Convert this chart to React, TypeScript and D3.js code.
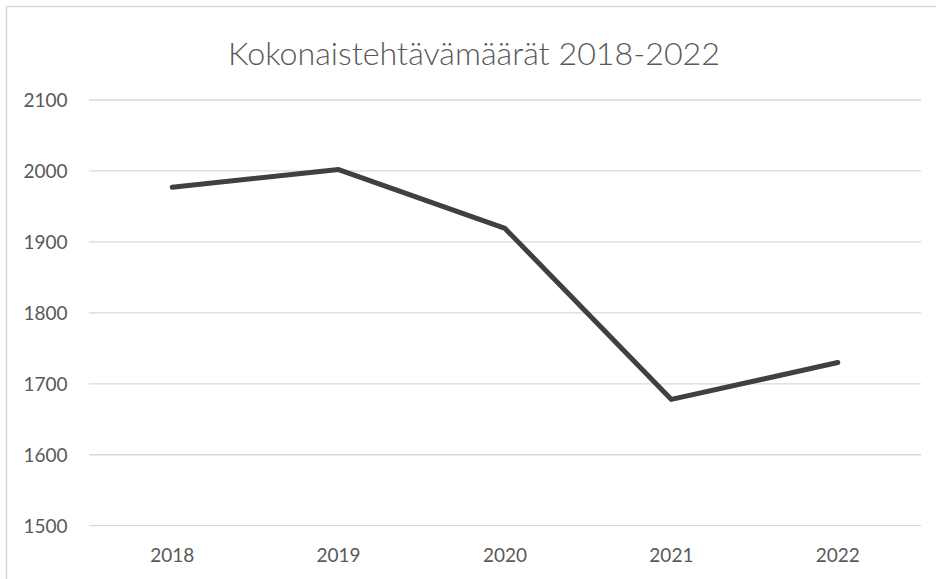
import React from "react";
import * as d3 from "d3";

const categories = ["2018", "2019", "2020", "2021", "2022"];
const values = [1977, 2002, 1919, 1678, 1730];
const yTicks = [1500, 1600, 1700, 1800, 1900, 2000, 2100];
const title = "Kokonaistehtävämäärät 2018-2022";

export default function App() {
  const W = 936, H = 579;
  const left = 89, right = 921, top = 100, bottom = 525.7;
  const x = d3.scaleBand<string>().domain(categories).range([left, right]);
  const y = d3.scaleLinear().domain([1500, 2100]).range([bottom, top]);
  const line = d3
    .line<number>()
    .x((_, i) => (x(categories[i]) as number) + x.bandwidth() / 2)
    .y((d) => y(d));
  const font = "Lato, 'Open Sans', sans-serif";
  return (
    <svg
      width={W}
      height={H}
      style={{ position: "absolute", left: 0, top: 0, background: "#fff" }}
    >
      <rect x={6.5} y={6.5} width={1000} height={1000} fill="#fff" stroke="#d9d9d9" strokeWidth={1.5} />
      <text
        x={474}
        y={65}
        textAnchor="middle"
        fontFamily={font}
        fontSize={32}
        fontWeight={300}
        fill="#595959"
        textLength={492}
        lengthAdjust="spacingAndGlyphs"
      >
        {title}
      </text>
      {yTicks.map((t) => (
        <g key={t}>
          <line x1={left} x2={right} y1={y(t)} y2={y(t)} stroke="#d9d9d9" strokeWidth={1.3} />
          <text
            x={67.5}
            y={y(t)}
            dy="0.36em"
            textAnchor="end"
            fontFamily={font}
            fontSize={19}
            fill="#595959"
          >
            {t}
          </text>
        </g>
      ))}
      {categories.map((c) => (
        <text
          key={c}
          x={(x(c) as number) + x.bandwidth() / 2}
          y={562}
          textAnchor="middle"
          fontFamily={font}
          fontSize={19}
          fill="#595959"
        >
          {c}
        </text>
      ))}
      <path
        d={line(values) || ""}
        fill="none"
        stroke="#404040"
        strokeWidth={5}
        strokeLinecap="round"
        strokeLinejoin="round"
      />
    </svg>
  );
}
